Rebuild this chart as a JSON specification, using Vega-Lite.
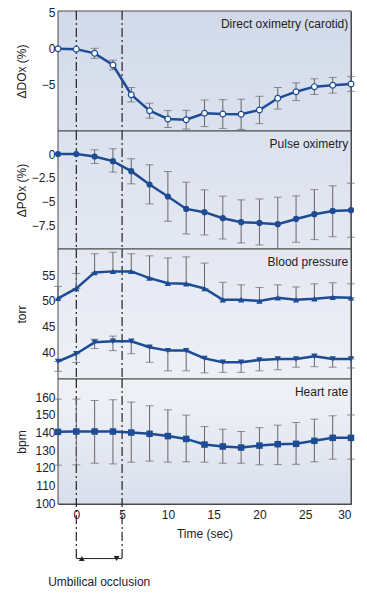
{
  "$schema": "https://vega.github.io/schema/vega-lite/v6.json",
  "background": "white",
  "padding": {"left": 14, "top": 6, "right": 5, "bottom": 5},
  "bounds": "flush",
  "spacing": 0,
  "datasets": {
    "dox": [
      {"t": -2, "v": 0},
      {"t": 0, "v": -0.05},
      {"t": 2, "v": -0.63, "lo": -1.33, "hi": 0.07},
      {"t": 4, "v": -2.25, "lo": -2.92, "hi": -1.58},
      {"t": 6, "v": -6.38, "lo": -7.38, "hi": -5.38},
      {"t": 8, "v": -8.6, "lo": -9.64, "hi": -7.56},
      {"t": 10, "v": -9.75, "lo": -10.93, "hi": -8.57},
      {"t": 12, "v": -9.85, "lo": -11.15, "hi": -8.55},
      {"t": 14, "v": -8.96, "lo": -10.81, "hi": -7.11},
      {"t": 16, "v": -9.06, "lo": -11.06, "hi": -7.06},
      {"t": 18, "v": -9.1, "lo": -11.2, "hi": -7.0},
      {"t": 20, "v": -8.5, "lo": -10.4, "hi": -6.6},
      {"t": 22, "v": -6.88, "lo": -8.38, "hi": -5.38},
      {"t": 24, "v": -5.96, "lo": -7.19, "hi": -4.73},
      {"t": 26, "v": -5.26, "lo": -6.35, "hi": -4.17},
      {"t": 28, "v": -5.07, "lo": -6.16, "hi": -3.98},
      {"t": 30, "v": -4.89, "lo": -5.91, "hi": -3.87}
    ],
    "pox": [
      {"t": -2, "v": 0},
      {"t": 0, "v": 0},
      {"t": 2, "v": -0.25, "lo": -0.99, "hi": 0.45},
      {"t": 4, "v": -0.74, "lo": -1.89, "hi": 0.56},
      {"t": 6, "v": -1.79, "lo": -3.12, "hi": -0.49},
      {"t": 8, "v": -3.19, "lo": -5.22, "hi": -1.12},
      {"t": 10, "v": -4.45, "lo": -7.04, "hi": -1.83},
      {"t": 12, "v": -5.75, "lo": -8.37, "hi": -2.94},
      {"t": 14, "v": -6.09, "lo": -8.48, "hi": -3.75},
      {"t": 16, "v": -6.72, "lo": -8.9, "hi": -4.41},
      {"t": 18, "v": -7.14, "lo": -9.32, "hi": -4.8},
      {"t": 20, "v": -7.22, "lo": -9.53, "hi": -4.7},
      {"t": 22, "v": -7.35, "lo": -10.1, "hi": -4.52},
      {"t": 24, "v": -6.8, "lo": -9.24, "hi": -4.38},
      {"t": 26, "v": -6.3, "lo": -8.97, "hi": -3.72},
      {"t": 28, "v": -5.96, "lo": -8.66, "hi": -3.33},
      {"t": 30, "v": -5.88, "lo": -8.72, "hi": -3.05}
    ],
    "bp": [
      {"s": "sys", "t": -2, "v": 50.5, "lo": 50.5, "hi": 52.8},
      {"s": "sys", "t": 0, "v": 52.4, "lo": 52.4, "hi": 55.3},
      {"s": "sys", "t": 2, "v": 55.5, "lo": 55.5, "hi": 59.1},
      {"s": "sys", "t": 4, "v": 55.7, "lo": 55.7, "hi": 59.4},
      {"s": "sys", "t": 6, "v": 55.7, "lo": 55.7, "hi": 59.1},
      {"s": "sys", "t": 8, "v": 54.4, "lo": 54.4, "hi": 58.7},
      {"s": "sys", "t": 10, "v": 53.4, "lo": 53.4, "hi": 58.3},
      {"s": "sys", "t": 12, "v": 53.3, "lo": 53.3, "hi": 58.5},
      {"s": "sys", "t": 14, "v": 52.4, "lo": 52.4, "hi": 57.3},
      {"s": "sys", "t": 16, "v": 50.2, "lo": 50.2, "hi": 53.6},
      {"s": "sys", "t": 18, "v": 50.2, "lo": 50.2, "hi": 53.1},
      {"s": "sys", "t": 20, "v": 50.0, "lo": 50.0, "hi": 52.6},
      {"s": "sys", "t": 22, "v": 50.6, "lo": 50.6, "hi": 53.1},
      {"s": "sys", "t": 24, "v": 50.2, "lo": 50.2, "hi": 52.7},
      {"s": "sys", "t": 26, "v": 50.4, "lo": 50.4, "hi": 53.3},
      {"s": "sys", "t": 28, "v": 50.7, "lo": 50.7, "hi": 53.5},
      {"s": "sys", "t": 30, "v": 50.6, "lo": 50.6, "hi": 53.3},
      {"s": "dia", "t": -2, "v": 38.3, "lo": 36.4, "hi": 38.3},
      {"s": "dia", "t": 0, "v": 39.8, "lo": 38.1, "hi": 39.8},
      {"s": "dia", "t": 2, "v": 42.0, "lo": 40.8, "hi": 42.6},
      {"s": "dia", "t": 4, "v": 42.2, "lo": 40.4, "hi": 43.2},
      {"s": "dia", "t": 6, "v": 42.2, "lo": 39.8, "hi": 42.2},
      {"s": "dia", "t": 8, "v": 41.05, "lo": 38.15, "hi": 41.05},
      {"s": "dia", "t": 10, "v": 40.4, "lo": 36.5, "hi": 40.4},
      {"s": "dia", "t": 12, "v": 40.4, "lo": 36.5, "hi": 40.4},
      {"s": "dia", "t": 14, "v": 38.9, "lo": 36.1, "hi": 38.9},
      {"s": "dia", "t": 16, "v": 38.15, "lo": 36.2, "hi": 38.15},
      {"s": "dia", "t": 18, "v": 38.15, "lo": 36.2, "hi": 38.15},
      {"s": "dia", "t": 20, "v": 38.6, "lo": 36.5, "hi": 38.6},
      {"s": "dia", "t": 22, "v": 38.8, "lo": 36.7, "hi": 38.8},
      {"s": "dia", "t": 24, "v": 38.8, "lo": 37.2, "hi": 38.8},
      {"s": "dia", "t": 26, "v": 39.3, "lo": 37.3, "hi": 39.3},
      {"s": "dia", "t": 28, "v": 38.8, "lo": 37.2, "hi": 38.8},
      {"s": "dia", "t": 30, "v": 38.8, "lo": 37.05, "hi": 38.8}
    ],
    "hr": [
      {"t": -2, "v": 140.4, "lo": 121.5, "hi": 159.0},
      {"t": 0, "v": 140.6, "lo": 121.7, "hi": 159.0},
      {"t": 2, "v": 140.6, "lo": 122.6, "hi": 158.2},
      {"t": 4, "v": 140.6, "lo": 122.2, "hi": 158.6},
      {"t": 6, "v": 140.0, "lo": 123.2, "hi": 157.3},
      {"t": 8, "v": 139.3, "lo": 123.8, "hi": 155.2},
      {"t": 10, "v": 138.0, "lo": 123.2, "hi": 152.9},
      {"t": 12, "v": 136.4, "lo": 123.4, "hi": 149.9},
      {"t": 14, "v": 133.2, "lo": 123.2, "hi": 143.4},
      {"t": 16, "v": 132.1, "lo": 122.6, "hi": 141.9},
      {"t": 18, "v": 131.5, "lo": 122.6, "hi": 140.6},
      {"t": 20, "v": 132.6, "lo": 121.7, "hi": 142.8},
      {"t": 22, "v": 133.4, "lo": 121.8, "hi": 144.2},
      {"t": 24, "v": 133.6, "lo": 122.0, "hi": 145.7},
      {"t": 26, "v": 135.3, "lo": 123.4, "hi": 147.6},
      {"t": 28, "v": 137.0, "lo": 124.9, "hi": 149.5},
      {"t": 30, "v": 137.0, "lo": 124.9, "hi": 150.0}
    ],
    "marks": [{"t": 0}, {"t": 5}]
  },
  "vconcat": [
    {
      "width": 293, "height": 120,
      "data": {"name": "dox"},
      "layer": [
        {
          "data": {"values": [{}]},
          "mark": {"type": "rect", "stroke": "#4a4a4a", "strokeWidth": 1, "color": {"gradient": "linear", "x1": 0, "y1": 0, "x2": 0, "y2": 1, "stops": [{"offset": 0, "color": "#d2daea"}, {"offset": 1, "color": "#dbe1ee"}]}},
          "encoding": {
            "x": {"datum": -2, "type": "quantitative", "axis": null},
            "x2": {"datum": 30},
            "y": {"datum": 5.25, "type": "quantitative", "title": "ΔDOx (%)", "axis": {"values": [5, 0, -5]}},
            "y2": {"datum": -11.42}
          }
        },
        {
          "data": {"name": "marks"},
          "mark": {"type": "rule", "color": "#222", "strokeWidth": 1.2, "strokeDash": [9, 3, 2, 3]},
          "encoding": {"x": {"field": "t", "type": "quantitative", "axis": null}}
        },
        {
          "transform": [{"filter": "datum.lo != null"}],
          "mark": {"type": "errorbar", "color": "#666", "thickness": 1, "ticks": {"size": 8, "thickness": 1, "color": "#666"}},
          "encoding": {
            "x": {"field": "t", "type": "quantitative", "axis": null},
            "y": {"field": "lo", "type": "quantitative", "title": "ΔDOx (%)", "axis": {"values": [5, 0, -5]}},
            "y2": {"field": "hi"}
          }
        },
        {
          "mark": {"type": "line", "color": "#1d4b94", "strokeWidth": 2.5},
          "encoding": {
            "x": {"field": "t", "type": "quantitative", "scale": {"domain": [-2, 30], "nice": false, "zero": false}, "axis": null},
            "y": {"field": "v", "type": "quantitative", "title": "ΔDOx (%)", "scale": {"domain": [-11.42, 5.25], "nice": false, "zero": false}, "axis": {"values": [5, 0, -5]}}
          }
        },
        {
          "mark": {"type": "point", "shape": "circle", "filled": true, "fill": "white", "stroke": "#1d4b94", "strokeWidth": 1.2, "size": 34, "opacity": 1},
          "encoding": {
            "x": {"field": "t", "type": "quantitative", "axis": null},
            "y": {"field": "v", "type": "quantitative", "title": "ΔDOx (%)", "axis": {"values": [5, 0, -5]}}
          }
        },
        {
          "data": {"values": [{"label": "Direct oximetry (carotid)"}]},
          "mark": {"type": "text", "align": "right", "baseline": "middle", "fontSize": 12, "color": "#222"},
          "encoding": {
            "x": {"datum": 29.7, "type": "quantitative", "axis": null},
            "y": {"datum": 3.44, "type": "quantitative", "title": "ΔDOx (%)", "axis": {"values": [5, 0, -5]}},
            "text": {"field": "label"}
          }
        }
      ]
    },
    {
      "width": 293, "height": 118,
      "data": {"name": "pox"},
      "layer": [
        {
          "data": {"values": [{}]},
          "mark": {"type": "rect", "stroke": "#4a4a4a", "strokeWidth": 1, "color": {"gradient": "linear", "x1": 0, "y1": 0, "x2": 0, "y2": 1, "stops": [{"offset": 0, "color": "#dbe1ee"}, {"offset": 1, "color": "#e4e8f2"}]}},
          "encoding": {
            "x": {"datum": -2, "type": "quantitative", "axis": null},
            "x2": {"datum": 30},
            "y": {"datum": 2.42, "type": "quantitative", "title": "ΔPOx (%)", "axis": {"values": [0, -2.5, -5, -7.5], "format": ".1~f"}},
            "y2": {"datum": -9.95}
          }
        },
        {
          "data": {"name": "marks"},
          "mark": {"type": "rule", "color": "#222", "strokeWidth": 1.2, "strokeDash": [9, 3, 2, 3]},
          "encoding": {"x": {"field": "t", "type": "quantitative", "axis": null}}
        },
        {
          "transform": [{"filter": "datum.lo != null"}],
          "mark": {"type": "errorbar", "color": "#666", "thickness": 1, "ticks": {"size": 8, "thickness": 1, "color": "#666"}},
          "encoding": {
            "x": {"field": "t", "type": "quantitative", "axis": null},
            "y": {"field": "lo", "type": "quantitative", "title": "ΔPOx (%)", "axis": {"values": [0, -2.5, -5, -7.5], "format": ".1~f"}},
            "y2": {"field": "hi"}
          }
        },
        {
          "mark": {"type": "line", "color": "#1d4b94", "strokeWidth": 2.5},
          "encoding": {
            "x": {"field": "t", "type": "quantitative", "scale": {"domain": [-2, 30], "nice": false, "zero": false}, "axis": null},
            "y": {"field": "v", "type": "quantitative", "title": "ΔPOx (%)", "scale": {"domain": [-9.95, 2.42], "nice": false, "zero": false}, "axis": {"values": [0, -2.5, -5, -7.5], "format": ".1~f"}}
          }
        },
        {
          "mark": {"type": "point", "shape": "circle", "filled": true, "color": "#1d4b94", "size": 38, "opacity": 1},
          "encoding": {
            "x": {"field": "t", "type": "quantitative", "axis": null},
            "y": {"field": "v", "type": "quantitative", "title": "ΔPOx (%)", "axis": {"values": [0, -2.5, -5, -7.5], "format": ".1~f"}}
          }
        },
        {
          "data": {"values": [{"label": "Pulse oximetry"}]},
          "mark": {"type": "text", "align": "right", "baseline": "middle", "fontSize": 12, "color": "#222"},
          "encoding": {
            "x": {"datum": 29.7, "type": "quantitative", "axis": null},
            "y": {"datum": 1.08, "type": "quantitative", "title": "ΔPOx (%)", "axis": {"values": [0, -2.5, -5, -7.5], "format": ".1~f"}},
            "text": {"field": "label"}
          }
        }
      ]
    },
    {
      "width": 293, "height": 130,
      "data": {"name": "bp"},
      "layer": [
        {
          "data": {"values": [{}]},
          "mark": {"type": "rect", "stroke": "#4a4a4a", "strokeWidth": 1, "color": {"gradient": "linear", "x1": 0, "y1": 0, "x2": 0, "y2": 1, "stops": [{"offset": 0, "color": "#e4e8f2"}, {"offset": 1, "color": "#edf0f6"}]}},
          "encoding": {
            "x": {"datum": -2, "type": "quantitative", "axis": null},
            "x2": {"datum": 30},
            "y": {"datum": 60.02, "type": "quantitative", "title": "torr", "axis": {"values": [40, 45, 50, 55]}},
            "y2": {"datum": 34.92}
          }
        },
        {
          "data": {"name": "marks"},
          "mark": {"type": "rule", "color": "#222", "strokeWidth": 1.2, "strokeDash": [9, 3, 2, 3]},
          "encoding": {"x": {"field": "t", "type": "quantitative", "axis": null}}
        },
        {
          "mark": {"type": "errorbar", "color": "#666", "thickness": 1, "ticks": {"size": 8, "thickness": 1, "color": "#666"}},
          "encoding": {
            "x": {"field": "t", "type": "quantitative", "axis": null},
            "y": {"field": "lo", "type": "quantitative", "title": "torr", "axis": {"values": [40, 45, 50, 55]}},
            "y2": {"field": "hi"},
            "detail": {"field": "s"}
          }
        },
        {
          "mark": {"type": "line", "color": "#1d4b94", "strokeWidth": 2.5},
          "encoding": {
            "x": {"field": "t", "type": "quantitative", "scale": {"domain": [-2, 30], "nice": false, "zero": false}, "axis": null},
            "y": {"field": "v", "type": "quantitative", "title": "torr", "scale": {"domain": [34.92, 60.02], "nice": false, "zero": false}, "axis": {"values": [40, 45, 50, 55]}},
            "detail": {"field": "s"}
          }
        },
        {
          "mark": {"type": "point", "filled": true, "color": "#1d4b94", "size": 40, "opacity": 1},
          "encoding": {
            "x": {"field": "t", "type": "quantitative", "axis": null},
            "y": {"field": "v", "type": "quantitative", "title": "torr", "axis": {"values": [40, 45, 50, 55]}},
            "shape": {"field": "s", "type": "nominal", "scale": {"domain": ["sys", "dia"], "range": ["triangle-up", "triangle-down"]}, "legend": null}
          }
        },
        {
          "data": {"values": [{"label": "Blood pressure"}]},
          "mark": {"type": "text", "align": "right", "baseline": "middle", "fontSize": 12, "color": "#222"},
          "encoding": {
            "x": {"datum": 29.7, "type": "quantitative", "axis": null},
            "y": {"datum": 57.45, "type": "quantitative", "title": "torr", "axis": {"values": [40, 45, 50, 55]}},
            "text": {"field": "label"}
          }
        }
      ]
    },
    {
      "width": 293, "height": 125,
      "data": {"name": "hr"},
      "layer": [
        {
          "data": {"values": [{}]},
          "mark": {"type": "rect", "stroke": "#4a4a4a", "strokeWidth": 1, "color": {"gradient": "linear", "x1": 0, "y1": 0, "x2": 0, "y2": 1, "stops": [{"offset": 0, "color": "#eef0f6"}, {"offset": 0.15, "color": "#eef0f6"}, {"offset": 1, "color": "#d8dfec"}]}},
          "encoding": {
            "x": {"datum": -2, "type": "quantitative", "title": "Time (sec)", "axis": {"values": [0, 5, 10, 15, 20, 25, 30]}},
            "x2": {"datum": 30},
            "y": {"datum": 170.4, "type": "quantitative", "title": "bpm", "axis": {"values": [100, 110, 120, 130, 140, 150, 160]}},
            "y2": {"datum": 99.46}
          }
        },
        {
          "data": {"name": "marks"},
          "mark": {"type": "rule", "color": "#222", "strokeWidth": 1.2, "strokeDash": [9, 3, 2, 3]},
          "encoding": {
            "x": {"field": "t", "type": "quantitative", "title": "Time (sec)", "axis": {"values": [0, 5, 10, 15, 20, 25, 30]}},
            "y": {"datum": 170.4, "type": "quantitative", "title": "bpm", "axis": {"values": [100, 110, 120, 130, 140, 150, 160]}},
            "y2": {"datum": 68.5}
          }
        },
        {
          "data": {"values": [{}]},
          "mark": {"type": "rule", "color": "#222", "strokeWidth": 1},
          "encoding": {
            "x": {"datum": 0, "type": "quantitative", "title": "Time (sec)", "axis": {"values": [0, 5, 10, 15, 20, 25, 30]}},
            "x2": {"datum": 5},
            "y": {"datum": 68.5, "type": "quantitative", "title": "bpm", "axis": {"values": [100, 110, 120, 130, 140, 150, 160]}}
          }
        },
        {
          "data": {"values": [{"t": 0.6, "dir": "l"}, {"t": 4.4, "dir": "r"}]},
          "mark": {"type": "point", "filled": true, "color": "#222", "size": 34, "opacity": 1},
          "encoding": {
            "x": {"field": "t", "type": "quantitative", "title": "Time (sec)", "axis": {"values": [0, 5, 10, 15, 20, 25, 30]}},
            "y": {"datum": 68.5, "type": "quantitative", "title": "bpm", "axis": {"values": [100, 110, 120, 130, 140, 150, 160]}},
            "shape": {"field": "dir", "type": "nominal", "scale": {"domain": ["l", "r"], "range": ["triangle-left", "triangle-right"]}, "legend": null}
          }
        },
        {
          "data": {"values": [{"label": "Umbilical occlusion"}]},
          "mark": {"type": "text", "align": "center", "baseline": "middle", "fontSize": 12, "color": "#222"},
          "encoding": {
            "x": {"datum": 2.5, "type": "quantitative", "title": "Time (sec)", "axis": {"values": [0, 5, 10, 15, 20, 25, 30]}},
            "y": {"datum": 55, "type": "quantitative", "title": "bpm", "axis": {"values": [100, 110, 120, 130, 140, 150, 160]}},
            "text": {"field": "label"}
          }
        },
        {
          "mark": {"type": "errorbar", "color": "#666", "thickness": 1, "ticks": {"size": 8, "thickness": 1, "color": "#666"}},
          "encoding": {
            "x": {"field": "t", "type": "quantitative", "title": "Time (sec)", "axis": {"values": [0, 5, 10, 15, 20, 25, 30]}},
            "y": {"field": "lo", "type": "quantitative", "title": "bpm", "axis": {"values": [100, 110, 120, 130, 140, 150, 160]}},
            "y2": {"field": "hi"}
          }
        },
        {
          "mark": {"type": "line", "color": "#1d4b94", "strokeWidth": 2.5},
          "encoding": {
            "x": {"field": "t", "type": "quantitative", "title": "Time (sec)", "scale": {"domain": [-2, 30], "nice": false, "zero": false}, "axis": {"values": [0, 5, 10, 15, 20, 25, 30]}},
            "y": {"field": "v", "type": "quantitative", "title": "bpm", "scale": {"domain": [99.46, 170.4], "nice": false, "zero": false}, "axis": {"values": [100, 110, 120, 130, 140, 150, 160]}}
          }
        },
        {
          "mark": {"type": "point", "shape": "square", "filled": true, "color": "#1d4b94", "size": 42, "opacity": 1},
          "encoding": {
            "x": {"field": "t", "type": "quantitative", "title": "Time (sec)", "axis": {"values": [0, 5, 10, 15, 20, 25, 30]}},
            "y": {"field": "v", "type": "quantitative", "title": "bpm", "axis": {"values": [100, 110, 120, 130, 140, 150, 160]}}
          }
        },
        {
          "data": {"values": [{"label": "Heart rate"}]},
          "mark": {"type": "text", "align": "right", "baseline": "middle", "fontSize": 12, "color": "#222"},
          "encoding": {
            "x": {"datum": 29.7, "type": "quantitative", "title": "Time (sec)", "axis": {"values": [0, 5, 10, 15, 20, 25, 30]}},
            "y": {"datum": 162.8, "type": "quantitative", "title": "bpm", "axis": {"values": [100, 110, 120, 130, 140, 150, 160]}},
            "text": {"field": "label"}
          }
        }
      ]
    }
  ],
  "config": {
    "font": "Liberation Sans",
    "view": {"stroke": "#4a4a4a", "strokeWidth": 1},
    "text": {"font": "Liberation Sans"},
    "axis": {
      "labelFont": "Liberation Sans",
      "titleFont": "Liberation Sans",
      "labelFontSize": 12,
      "titleFontSize": 12,
      "titleFontWeight": "normal",
      "labelColor": "#222",
      "titleColor": "#222",
      "tickColor": "#444",
      "domain": false,
      "grid": false,
      "tickSize": -4
    },
    "axisY": {"labelPadding": 7, "titleX": -30},
    "axisX": {"labelPadding": 9, "titleY": 24}
  }
}
